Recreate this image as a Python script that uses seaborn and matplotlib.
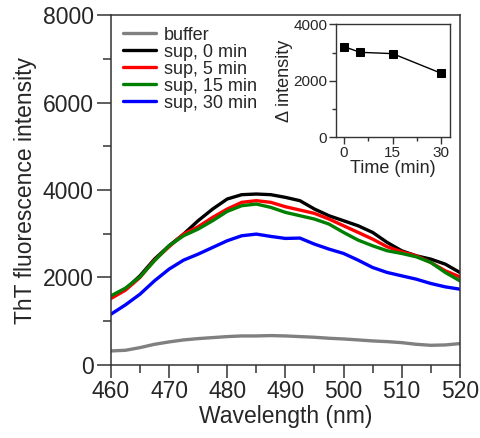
import numpy as np
import pandas as pd
import matplotlib
matplotlib.use("Agg")
import matplotlib.pyplot as plt
import seaborn as sns
from matplotlib.ticker import MultipleLocator

sns.set_style("ticks")
plt.rcParams['font.family'] = ['Liberation Sans', 'DejaVu Sans']

wavelength = [460, 462.5, 465, 467.5, 470, 472.5, 475, 477.5, 480, 482.5, 485, 487.5,
              490, 492.5, 495, 497.5, 500, 502.5, 505, 507.5, 510, 512.5, 515, 517.5, 520]
buffer_ = [321, 336, 397, 473, 527, 573, 603, 626, 649, 664, 664, 672,
           664, 649, 634, 611, 595, 573, 550, 534, 511, 473, 450, 458, 489]
sup0 = [1557, 1733, 2038, 2420, 2725, 2992, 3298, 3565, 3794, 3893, 3908, 3893,
        3832, 3756, 3565, 3412, 3298, 3183, 3031, 2802, 2611, 2496, 2420, 2305, 2115]
sup5 = [1519, 1710, 2000, 2397, 2702, 2992, 3160, 3374, 3565, 3718, 3756, 3718,
        3618, 3542, 3466, 3336, 3183, 3031, 2878, 2702, 2588, 2496, 2344, 2153, 2015]
sup15 = [1580, 1756, 2015, 2382, 2725, 2954, 3107, 3298, 3511, 3641, 3679, 3603,
         3489, 3412, 3336, 3221, 3031, 2855, 2725, 2611, 2550, 2473, 2344, 2115, 1924]
sup30 = [1160, 1374, 1618, 1924, 2191, 2397, 2534, 2687, 2840, 2954, 2992, 2939,
         2893, 2901, 2763, 2649, 2550, 2397, 2229, 2115, 2038, 1962, 1863, 1786, 1733]
series_names = ["buffer", "sup, 0 min", "sup, 5 min", "sup, 15 min", "sup, 30 min"]
colors = ["#808080", "#000000", "#ff0000", "#008000", "#0000ff"]

time_min = [0, 5, 15, 30]
delta_int = [3209, 3009, 2962, 2265]

rows = []
for name, vals in zip(series_names, [buffer_, sup0, sup5, sup15, sup30]):
    for w, v in zip(wavelength, vals):
        rows.append({"Wavelength": w, "Intensity": v, "Sample": name})
df = pd.DataFrame(rows)
df_in = pd.DataFrame({"Time": time_min, "Delta": delta_int})

fig = plt.figure(figsize=(4.8, 4.38), dpi=100)
ax = fig.add_axes([0.231, 0.1667, 0.727, 0.799])
sns.lineplot(data=df, x="Wavelength", y="Intensity", hue="Sample",
             hue_order=series_names, palette=colors, linewidth=2.4, ax=ax)
ax.set_xlim(460, 520)
ax.set_ylim(0, 8000)
ax.xaxis.set_major_locator(MultipleLocator(10))
ax.xaxis.set_minor_locator(MultipleLocator(5))
ax.yaxis.set_major_locator(MultipleLocator(2000))
ax.yaxis.set_minor_locator(MultipleLocator(1000))
ax.tick_params(axis='y', which='major', length=10, width=1.1, labelsize=16.5,
               color='#333333', pad=2.5)
ax.tick_params(axis='x', which='major', length=9.5, width=1.1, labelsize=16.5,
               color='#333333', pad=1)
ax.tick_params(which='minor', length=5.5, width=1.1, color='#333333')
for s in ax.spines.values():
    s.set_linewidth(1.1)
    s.set_color('#333333')
ax.set_xlabel("Wavelength (nm)", fontsize=16.5, labelpad=2)
ax.set_ylabel("ThT fluorescence intensity", fontsize=16.5, labelpad=4)
leg = ax.legend(loc='upper left', frameon=False, fontsize=13, handlelength=1.85,
                handletextpad=0.45, labelspacing=0.0, borderaxespad=0.25,
                bbox_to_anchor=(0.0, 1.0))

axi = fig.add_axes([0.699, 0.6865, 0.238, 0.258])
sns.lineplot(data=df_in, x="Time", y="Delta", color="black", marker="s",
             markersize=5.5, linewidth=1, markeredgecolor="black", ax=axi)
axi.set_xlim(-2.6, 32.6)
axi.set_ylim(0, 4000)
axi.xaxis.set_major_locator(MultipleLocator(15))
axi.xaxis.set_minor_locator(MultipleLocator(7.5))
axi.yaxis.set_major_locator(MultipleLocator(2000))
axi.yaxis.set_minor_locator(MultipleLocator(1000))
axi.tick_params(which='major', length=5, width=1, labelsize=11, color='#333333', pad=1)
axi.tick_params(which='minor', length=3, width=1, color='#333333')
for s in axi.spines.values():
    s.set_linewidth(1)
    s.set_color('#333333')
axi.set_xlabel("Time (min)", fontsize=13, labelpad=0.5)
axi.set_ylabel("Δ intensity", fontsize=13, labelpad=0)

fig.savefig("out.png", dpi=100)
